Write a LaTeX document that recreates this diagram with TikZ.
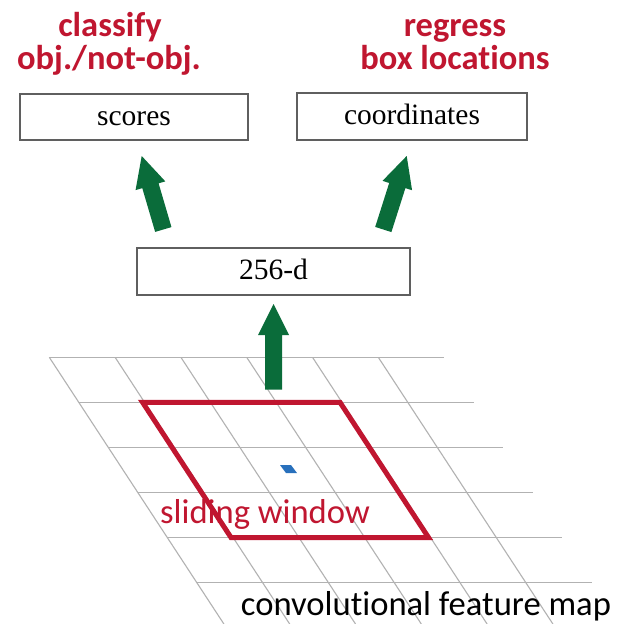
\documentclass[tikz,border=0pt]{standalone}
\usepackage{fontspec}
\setmainfont{Liberation Serif}
\newfontfamily\calibri[Ligatures=NoCommon]{Carlito}
\usetikzlibrary{calc}
\definecolor{hdred}{RGB}{192,22,48}
\definecolor{arrgreen}{RGB}{10,108,58}
\definecolor{gridgray}{RGB}{178,178,178}
\definecolor{boxgray}{RGB}{95,95,95}
\definecolor{markblue}{RGB}{40,112,188}
\newcommand\greenarrow[2]{%
  \path ($(#2)!31pt!(#1)$) coordinate (#1-hb);
  \fill[arrgreen] ($(#1)!8.5pt!90:(#2)$) -- ($(#1-hb)!8.5pt!90:(#2)$) -- ($(#1-hb)!15.5pt!90:(#2)$) -- (#2) -- ($(#1-hb)!15.5pt!-90:(#2)$) -- ($(#1-hb)!8.5pt!-90:(#2)$) -- ($(#1)!8.5pt!-90:(#2)$) -- cycle;}
\begin{document}
\begin{tikzpicture}[x=1pt,y=-1pt,
  box/.style={draw=boxgray, line width=1.6pt, fill=white, inner sep=0pt,
    text height=20pt, text depth=4pt, font=\fontsize{29.5}{34}\selectfont},
  heading/.style={anchor=base, text=hdred, inner sep=0pt,
    font=\calibri\bfseries\fontsize{34.5}{39}\selectfont},
  sanslabel/.style={anchor=base, inner sep=0pt,
    font=\calibri\fontsize{34.6}{40}\selectfont},
  gridline/.style={draw=gridgray, line width=1.1pt},
  window/.style={draw=hdred, line width=5pt, line join=miter}]
\fill[white] (0,0) rectangle (617,624);
\useasboundingbox (0,0) rectangle (617,624);
% feature map grid
\foreach \j in {0,...,5}
  \draw[gridline] ({49.3+29.5*\j},{357.3+45.05*\j}) -- ++(394.8,0);
\foreach \k in {0,...,5}
  \draw[gridline] ({49.3+65.8*\k},357.3) -- ++(174.6,266.7);
% sliding window
\draw[window] (142.6,402.35) -- (340,402.35) -- (428.5,537.5) -- (231,537.5) -- cycle;
\fill[markblue] (280,465) -- (291,465) -- (297,473) -- (286,473) -- cycle;
% headings
\node[heading] (cls1) at (110,36) {classify};
\node[heading] (cls2) at (109,69) {obj./not-obj.};
\node[heading] (reg1) at (455,36) {regress};
\node[heading] (reg2) at (455,69) {box locations};
% boxes
\node[box, minimum width=228pt, minimum height=46pt] (scores) at (134,117) {scores};
\node[box, minimum width=230pt, minimum height=47pt] (coords) at (412,116.5) {coordinates};
\node[box, minimum width=273pt, minimum height=47pt] (d256) at (273.5,271.5) {256-d};
% arrows
\coordinate (la0) at (163.3,229.5);
\coordinate (la1) at (141.7,156);
\coordinate (ra0) at (383.3,229.5);
\coordinate (ra1) at (406.7,156);
\coordinate (ma0) at (273.5,389.5);
\coordinate (ma1) at (273.5,304);
\greenarrow{la0}{la1}
\greenarrow{ra0}{ra1}
\greenarrow{ma0}{ma1}
% labels
\node[sanslabel, text=hdred] (sw) at (265,523) {sliding window};
\node[sanslabel] (cfm) at (426,615) {convolutional feature map};
\end{tikzpicture}
\end{document}
